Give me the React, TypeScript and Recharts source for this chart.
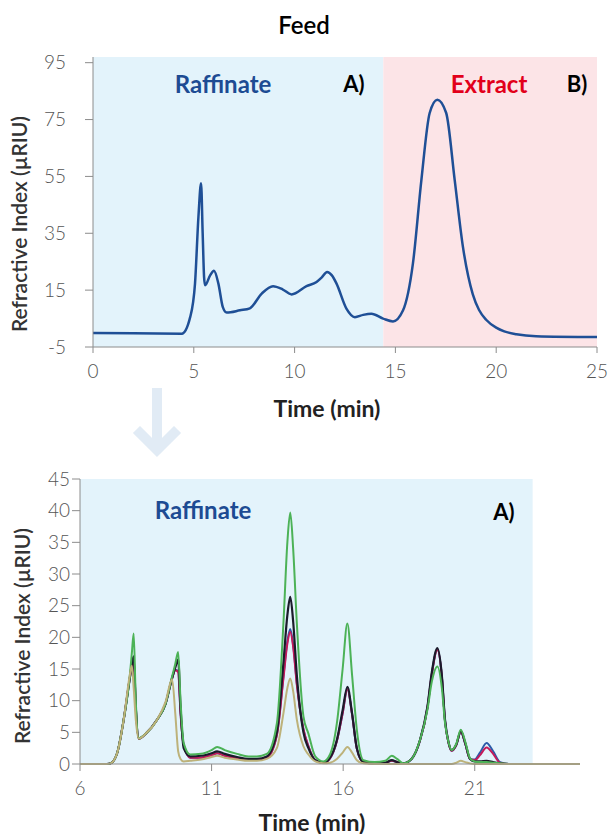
import { LineChart, Line, XAxis, YAxis, ReferenceArea } from 'recharts';

// Feed chromatogram (top)
const feedTime = [0, 2, 4.41, 4.82, 5.06, 5.23, 5.36, 5.44, 5.51, 5.56, 5.81, 6.0, 6.22, 6.44, 6.63, 7.29, 7.78, 8.37, 8.93, 9.4, 9.85, 10.59, 11.09, 11.35, 11.61, 11.85, 12.08, 12.57, 12.99, 13.4, 13.81, 14.39, 14.88, 15.38, 15.87, 16.29, 16.7, 17.08, 17.52, 17.94, 18.35, 18.84, 19.15, 19.5, 20.0, 20.4, 21.0, 21.98, 25];
const feedSignal = [-0.1, -0.2, -0.3, 5.5, 17.3, 40.8, 52.6, 35, 19.6, 16.7, 20.2, 21.8, 17.3, 9.0, 7.1, 7.9, 8.6, 13.8, 16.4, 15.3, 13.5, 16.4, 17.9, 19.5, 21.4, 20.2, 17.3, 8.5, 5.5, 6.3, 6.7, 5.0, 4.0, 7.9, 24.4, 53.8, 77.3, 82, 77.3, 53.8, 30.2, 13.5, 8.0, 4.6, 1.8, 0.5, -0.5, -1.2, -1.5];
const feedXTicks = [0, 5, 10, 15, 20, 25];
const feedYTicks = [-5, 15, 35, 55, 75, 95];
const feedSplit = 14.4; // raffinate | extract boundary (min)

// Raffinate runs (bottom)
const rafTime = [6, 7.0, 7.16, 7.41, 7.66, 7.89, 7.97, 8.04, 8.12, 8.23, 8.5, 8.93, 9.25, 9.5, 9.62, 9.73, 9.82, 9.94, 10.19, 10.6, 11.0, 11.21, 11.5, 11.97, 12.4, 12.72, 13.1, 13.48, 13.73, 13.88, 13.99, 14.1, 14.24, 14.49, 14.68, 14.94, 15.25, 15.5, 15.76, 15.98, 16.16, 16.34, 16.52, 16.77, 17.2, 17.6, 17.85, 18.05, 18.29, 18.6, 18.92, 19.2, 19.37, 19.58, 19.75, 19.87, 20.0, 20.12, 20.3, 20.47, 20.64, 20.82, 21.0, 21.2, 21.45, 21.7, 21.96, 22.3, 23.2, 25];
const rafGreen = [
  0, 0, 0.1, 1.7, 7, 13.8, 17.5, 20.6, 10, 4.1,
  4.8, 7, 9.5, 13.8, 15.8, 17.7, 10, 3.3, 1.5, 1.6,
  2.2, 2.7, 2.2, 1.6, 1.2, 1.2, 1.6, 6.4, 22.2, 35,
  39.7, 34, 22.2, 7.5, 4.8, 1.2, 0.4, 1.5, 6.4, 15,
  22.2, 14, 5.4, 0.6, 0.3, 0.5, 1.3, 0.8, 0.1, 0.8,
  3.8, 8.5, 13, 15.4, 12, 6.5, 3.5, 2.2, 3.2, 5.4,
  3.5, 0.9, 0.4, 0.3, 0.3, 0.2, 0.1, 0, 0, 0,
];
const rafBlack = [
  0, 0, 0.1, 1.7, 7, 13.5, 15.8, 17, 9, 4,
  4.8, 7, 9.5, 13.6, 15.2, 16.5, 9, 2.5, 1.2, 1.3,
  1.7, 2.0, 1.6, 1.1, 0.8, 0.8, 1.2, 5, 16, 23.5,
  26.4, 22.5, 14, 5, 2.5, 0.6, 0.2, 1, 3.8, 8.5,
  12.2, 8, 2.5, 0.3, 0.1, 0.2, 0.6, 0.3, 0.1, 0.8,
  3.8, 9, 14.5, 18.3, 14, 7, 3.5, 2.2, 3.1, 5.2,
  3.3, 0.8, 0.4, 0.4, 0.5, 0.3, 0.1, 0, 0, 0,
];
const rafMagenta = [
  0, 0, 0.1, 1.7, 7, 13.5, 15.5, 16.5, 9, 4,
  4.8, 7, 9.5, 13.5, 14.8, 14.5, 8, 3, 1, 1,
  1.4, 1.7, 1.3, 0.9, 0.7, 0.7, 1.0, 4.5, 13.5, 19,
  20.9, 18.5, 12.5, 5.5, 2.8, 0.6, 0.2, 0.9, 3.6, 8,
  11.8, 7.8, 2.4, 0.3, 0.1, 0.2, 0.5, 0.3, 0.1, 0.8,
  3.7, 8.8, 14.2, 18, 13.8, 6.8, 3.4, 2.1, 3, 5.1,
  3.2, 0.8, 0.6, 1.4, 2.6, 1.6, 0.2, 0, 0, 0,
];
const rafBlue = [
  0, 0, 0.1, 1.7, 7, 13.5, 15.5, 16.6, 9, 4,
  4.8, 7, 9.5, 13.5, 14.9, 14.7, 8.2, 3, 1, 1,
  1.4, 1.7, 1.3, 0.9, 0.7, 0.7, 1.0, 4.6, 13.8, 19.4,
  21.3, 18.8, 12.7, 5.5, 2.8, 0.6, 0.2, 0.9, 3.6, 8,
  11.9, 7.8, 2.4, 0.3, 0.1, 0.2, 0.5, 0.3, 0.1, 0.8,
  3.7, 8.8, 14.2, 18.1, 13.8, 6.8, 3.4, 2.1, 3, 5.1,
  3.2, 0.8, 0.7, 1.8, 3.3, 2.0, 0.3, 0, 0, 0,
];
const rafOlive = [
  0, 0, 0.1, 1.7, 7, 14, 15.5, 12, 7, 4,
  4.8, 7, 9.8, 13.4, 8, 2, 0.8, 0.4, 0.5, 0.7,
  1.1, 1.3, 1.0, 0.7, 0.5, 0.5, 0.8, 2.5, 8, 12,
  13.5, 11.5, 7, 2.8, 1.5, 0.4, 0.1, 0.2, 0.8, 1.8,
  2.7, 1.8, 0.6, 0.1, 0, 0, 0, 0, 0, 0,
  0, 0, 0, 0, 0, 0, 0, 0, 0.2, 0.5,
  0.3, 0.1, 0, 0, 0, 0, 0, 0, 0, 0,
];
const rafXTicks = [6, 11, 16, 21];
const rafYTicks = [0, 5, 10, 15, 20, 25, 30, 35, 40, 45];
const rafShadeEnd = 23.2;

const feedData = feedTime.map((t, i) => ({ t, v: feedSignal[i] }));
const rafData = rafTime.map((t, i) => ({
  t,
  green: rafGreen[i],
  black: rafBlack[i],
  magenta: rafMagenta[i],
  blue: rafBlue[i],
  olive: rafOlive[i],
}));

const FONT = 'Lato, "Open Sans", sans-serif';
const AXIS = '#8c8c8c';
const tickStyle = { fill: '#555', fontSize: 19, fontFamily: FONT, fontWeight: 300 };

function Tag({ x, y, children, color = '#000', size = 24, weight = 700, rotate = 0 }: {
  x: number; y: number; children: string; color?: string; size?: number; weight?: number; rotate?: number;
}) {
  return (
    <div
      style={{
        position: 'absolute',
        left: x,
        top: y,
        transform: `translate(-50%, -50%) rotate(${rotate}deg)`,
        color,
        fontSize: size,
        fontWeight: weight,
        whiteSpace: 'nowrap',
        lineHeight: 1,
      }}
    >
      {children}
    </div>
  );
}

export default function App() {
  return (
    <div style={{ position: 'absolute', left: 0, top: 0, width: 611, height: 834, background: '#fff', fontFamily: FONT }}>
      {/* Feed */}
      <div style={{ position: 'absolute', left: 0, top: 0 }}>
        <LineChart width={611} height={420} data={feedData} margin={{ top: 57, right: 14, bottom: 6, left: 0 }}>
          <ReferenceArea x1={0} x2={feedSplit} y1={-5} y2={97} fill="#e3f3fb" fillOpacity={1} stroke="none" />
          <ReferenceArea x1={feedSplit} x2={25} y1={-5} y2={97} fill="#fce4e7" fillOpacity={1} stroke="none" />
          <XAxis
            dataKey="t"
            type="number"
            domain={[0, 25]}
            ticks={feedXTicks}
            height={67}
            stroke={AXIS}
            tickSize={6}
            tickMargin={12}
            tick={tickStyle}
          />
          <YAxis
            type="number"
            domain={[-5, 97]}
            ticks={feedYTicks}
            width={93}
            stroke={AXIS}
            tickSize={8}
            tickMargin={19}
            tick={tickStyle}
          />
          <Line type="monotone" dataKey="v" stroke="#1f4f96" strokeWidth={2.5} dot={false} isAnimationActive={false} />
        </LineChart>
      </div>

      <Tag x={304} y={25} size={24} weight={600}>Feed</Tag>
      <Tag x={223} y={84} color="#1d4b93">Raffinate</Tag>
      <Tag x={354} y={84} size={22}>A)</Tag>
      <Tag x={489} y={84} color="#e2001a">Extract</Tag>
      <Tag x={577} y={84} size={22}>B)</Tag>
      <Tag x={18} y={224} size={21} weight={600} color="#333" rotate={-90}>Refractive Index (µRIU)</Tag>
      <Tag x={327} y={408} size={23} weight={700} color="#222">Time (min)</Tag>

      {/* arrow */}
      <svg style={{ position: 'absolute', left: 120, top: 380 }} width={80} height={90}>
        <line x1={37} y1={8} x2={37} y2={70} stroke="#e1ebf5" strokeWidth={10} />
        <polyline points="20,53 37,70 54,53" fill="none" stroke="#e1ebf5" strokeWidth={10} strokeLinecap="square" />
      </svg>

      {/* Raffinate runs */}
      <div style={{ position: 'absolute', left: 0, top: 460 }}>
        <LineChart width={611} height={374} data={rafData} margin={{ top: 19, right: 31, bottom: 4, left: 0 }}>
          <ReferenceArea x1={6} x2={rafShadeEnd} y1={0} y2={45} fill="#e3f3fb" fillOpacity={1} stroke="none" />
          <XAxis
            dataKey="t"
            type="number"
            domain={[6, 25]}
            ticks={rafXTicks}
            height={66}
            stroke={AXIS}
            tickSize={7}
            tickMargin={11}
            tick={tickStyle}
          />
          <YAxis
            type="number"
            domain={[0, 45]}
            ticks={rafYTicks}
            width={80}
            stroke={AXIS}
            tickSize={8}
            tickMargin={2}
            tick={tickStyle}
          />
          <Line type="monotone" dataKey="blue" stroke="#2b5aa8" strokeWidth={2} dot={false} isAnimationActive={false} />
          <Line type="monotone" dataKey="magenta" stroke="#c41a5a" strokeWidth={2} dot={false} isAnimationActive={false} />
          <Line type="monotone" dataKey="black" stroke="#1b1b2b" strokeWidth={2.2} dot={false} isAnimationActive={false} />
          <Line type="monotone" dataKey="green" stroke="#4cb257" strokeWidth={2} dot={false} isAnimationActive={false} />
          <Line type="monotone" dataKey="olive" stroke="#bdb27a" strokeWidth={2} dot={false} isAnimationActive={false} />
        </LineChart>
      </div>

      <Tag x={203} y={510} color="#1d4b93">Raffinate</Tag>
      <Tag x={504} y={512} size={22}>A)</Tag>
      <Tag x={21} y={636} size={21} weight={600} color="#333" rotate={-90}>Refractive Index (µRIU)</Tag>
      <Tag x={312} y={822} size={23} weight={700} color="#222">Time (min)</Tag>
    </div>
  );
}
